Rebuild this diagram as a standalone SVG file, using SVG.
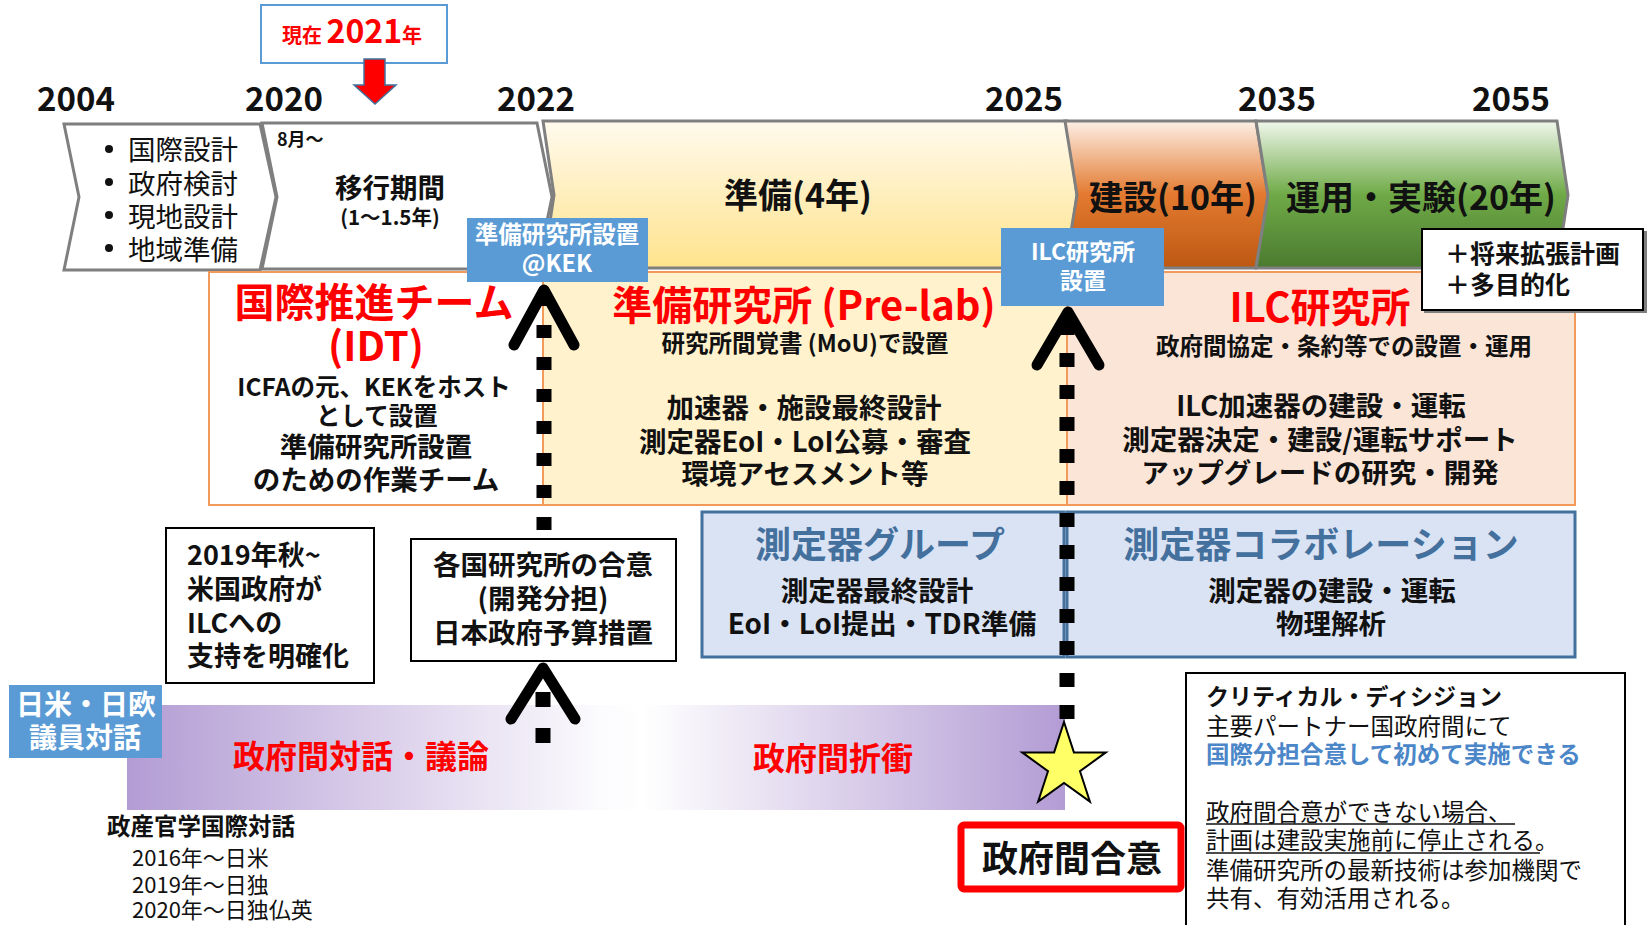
<svg xmlns="http://www.w3.org/2000/svg" width="1650" height="925" viewBox="0 0 1650 925">
<defs>
<style>
text{font-family:"Noto Sans CJK JP","Noto Sans",sans-serif;fill:#111;}
.b{font-weight:bold;}
.c{text-anchor:middle;dominant-baseline:central;}
.l{dominant-baseline:central;}
.yr{font-size:33px;font-weight:bold;}
.chev{stroke:#7F7F7F;stroke-width:3;stroke-linejoin:miter;}
.panel{stroke:#F29A5C;stroke-width:2;}
.det{fill:#DAE3F3;stroke:#41719C;stroke-width:3;}
.blue{fill:#5B9BD5;}
.wt{fill:#fff;font-weight:bold;}
.red{fill:#FF0000;font-weight:bold;}
.box{fill:#fff;stroke:#000;stroke-width:2;}
.dash{stroke:#000;stroke-width:15;fill:none;}
.vee{stroke:#000;stroke-width:11;fill:none;stroke-linecap:round;stroke-linejoin:round;}
</style>
<linearGradient id="gY" x1="0" y1="0" x2="0" y2="1"><stop offset="0" stop-color="#FFFAEE"/><stop offset="1" stop-color="#FFE38C"/></linearGradient>
<linearGradient id="gO" x1="0" y1="0" x2="0" y2="1"><stop offset="0" stop-color="#FDEFE6"/><stop offset="0.5" stop-color="#E37A30"/><stop offset="1" stop-color="#BD5812"/></linearGradient>
<linearGradient id="gG" x1="0" y1="0" x2="0" y2="1"><stop offset="0" stop-color="#F0F7EC"/><stop offset="0.5" stop-color="#6FAA47"/><stop offset="1" stop-color="#4B7A30"/></linearGradient>
<linearGradient id="gP" x1="0" y1="0" x2="1" y2="0"><stop offset="0" stop-color="#B39CD4"/><stop offset="0.5" stop-color="#FBFAFD"/><stop offset="0.55" stop-color="#FFFFFF"/><stop offset="1" stop-color="#B39CD4"/></linearGradient>
</defs>
<rect width="1650" height="925" fill="#fff"/>

<g id="years">
<text class="yr" x="37" y="111">2004</text>
<text class="yr" x="245" y="111">2020</text>
<text class="yr" x="497" y="111">2022</text>
<text class="yr" x="985" y="111">2025</text>
<text class="yr" x="1238" y="111">2035</text>
<text class="yr" x="1472" y="111">2055</text>
</g>

<g id="now">
<rect x="261" y="5" width="186" height="58" fill="#fff" stroke="#5B9BD5" stroke-width="2"/>
<text x="282" y="43" class="red" style="font-size:20px">現在 <tspan style="font-size:32px">2021</tspan>年</text>
<path d="M364,59 H385 V85 H396 L375,104 L354,85 H364 Z" fill="#FF0000" stroke="#41719C" stroke-width="1.5"/>
</g>

<g id="phase-design">
<polygon class="chev" fill="#fff" points="64,124 260,124 276,197 260,270 64,270 79,197"/>
<circle cx="109" cy="149" r="4" fill="#111"/>
<circle cx="109" cy="182" r="4" fill="#111"/>
<circle cx="109" cy="215" r="4" fill="#111"/>
<circle cx="109" cy="248" r="4" fill="#111"/>
<text class="l" x="128" y="148" style="font-size:27.5px">国際設計</text>
<text class="l" x="128" y="182" style="font-size:27.5px">政府検討</text>
<text class="l" x="128" y="215" style="font-size:27.5px">現地設計</text>
<text class="l" x="128" y="248" style="font-size:27.5px">地域準備</text>
</g>

<g id="phase-transition">
<polygon class="chev" fill="#fff" points="262,123 537,123 552,197 537,269 262,269 277,197"/>
<text class="l b" x="277" y="138" style="font-size:18px">8月～</text>
<text class="c b" x="390" y="186" style="font-size:27.5px">移行期間</text>
<text class="c b" x="390" y="216" style="font-size:20.5px">(1～1.5年)</text>
</g>

<g id="phase-prep">
<polygon class="chev" fill="url(#gY)" points="543,121 1067,121 1077,195 1067,268 543,268 554,195"/>
<text class="c b" x="798" y="193" style="font-size:34px">準備(4年)</text>
</g>

<g id="phase-build">
<polygon class="chev" fill="url(#gO)" points="1065,121 1256,121 1268,195 1256,268 1065,268 1077,195"/>
<text class="c b" x="1173" y="195" style="font-size:34px">建設(10年)</text>
</g>

<g id="phase-operate">
<polygon class="chev" fill="url(#gG)" points="1256,121 1557,121 1568,195 1557,268 1256,268 1268,195"/>
<text class="c b" x="1421" y="195" style="font-size:34px">運用・実験(20年)</text>
</g>

<g id="panel-idt">
<rect class="panel" x="209" y="272" width="334" height="233" fill="#fff"/>
<text class="c red" x="374" y="300" style="font-size:40px">国際推進チーム</text>
<text class="c red" x="376" y="344" style="font-size:40px">(IDT)</text>
<text class="c b" x="374" y="385" style="font-size:24.5px">ICFAの元、KEKをホスト</text>
<text class="c b" x="377" y="414" style="font-size:24.5px">として設置</text>
<text class="c b" x="376" y="445" style="font-size:27.5px">準備研究所設置</text>
<text class="c b" x="376" y="478" style="font-size:27.5px">のための作業チーム</text>
</g>

<g id="panel-prelab">
<rect class="panel" x="543" y="272" width="524" height="233" fill="#FFF2CC"/>
<text class="c red" x="804" y="303" style="font-size:40px">準備研究所 (Pre-lab)</text>
<text class="c b" x="805" y="342" style="font-size:23.5px">研究所間覚書 (MoU)で設置</text>
<text class="c b" x="804" y="406" style="font-size:27.5px">加速器・施設最終設計</text>
<text class="c b" x="805" y="440" style="font-size:27.5px">測定器EoI・LoI公募・審査</text>
<text class="c b" x="805" y="472" style="font-size:27.5px">環境アセスメント等</text>
</g>

<g id="panel-ilc">
<rect class="panel" x="1067" y="272" width="508" height="233" fill="#FBE5D6"/>
<text class="c red" x="1320" y="305" style="font-size:40px">ILC研究所</text>
<text class="c b" x="1344" y="345" style="font-size:23.5px">政府間協定・条約等での設置・運用</text>
<text class="c b" x="1321" y="404" style="font-size:27.5px">ILC加速器の建設・運転</text>
<text class="c b" x="1320" y="438" style="font-size:27.5px">測定器決定・建設/運転サポート</text>
<text class="c b" x="1320" y="471" style="font-size:27.5px">アップグレードの研究・開発</text>
</g>

<g id="future">
<rect x="1424" y="231" width="223" height="82" fill="#7F7F7F"/>
<rect x="1422" y="229" width="221" height="81" class="box"/>
<text class="l b" x="1445" y="252" style="font-size:25px">＋将来拡張計画</text>
<text class="l b" x="1445" y="283" style="font-size:25px">＋多目的化</text>
</g>

<g id="detector-group">
<rect class="det" x="702" y="512" width="362" height="145"/>
<text class="c b" x="880" y="542" style="font-size:36px;fill:#44709E">測定器グループ</text>
<text class="c b" x="877" y="589" style="font-size:27.5px">測定器最終設計</text>
<text class="c b" x="882" y="622" style="font-size:27.8px">EoI・LoI提出・TDR準備</text>
</g>

<g id="detector-collab">
<rect class="det" x="1067" y="512" width="508" height="145"/>
<text class="c b" x="1321" y="542" style="font-size:36px;fill:#44709E">測定器コラボレーション</text>
<text class="c b" x="1332" y="589" style="font-size:27.5px">測定器の建設・運転</text>
<text class="c b" x="1331" y="622" style="font-size:27.5px">物理解析</text>
</g>

<g id="us-support">
<rect class="box" x="166" y="528" width="208" height="155"/>
<text class="l b" x="187" y="553" style="font-size:27px">2019年秋~</text>
<text class="l b" x="187" y="587" style="font-size:27px">米国政府が</text>
<text class="l b" x="187" y="621" style="font-size:27px">ILCへの</text>
<text class="l b" x="187" y="654" style="font-size:27px">支持を明確化</text>
</g>

<g id="gov-dialogue">
<rect x="127" y="705" width="938" height="105" fill="url(#gP)"/>
<text class="c red" x="361" y="754" style="font-size:32px">政府間対話・議論</text>
<text class="c red" x="833" y="756" style="font-size:32px">政府間折衝</text>
</g>

<g id="connectors">
<line class="dash" x1="544" y1="293" x2="544" y2="531" stroke-dasharray="13 19"/>
<line class="dash" x1="543" y1="692" x2="543" y2="744" stroke-dasharray="15 21"/>
<line class="dash" x1="1067" y1="321" x2="1067" y2="720" stroke-dasharray="14 18"/>
<polyline class="vee" points="514,345 544,290 574,345"/>
<polyline class="vee" points="511,719 543,668 575,719"/>
<polyline class="vee" points="1037,365 1068,312 1099,365"/>
</g>

<g id="kek-prelab">
<rect class="blue" x="467" y="218" width="181" height="64"/>
<text class="c wt" x="557" y="233" style="font-size:23.5px">準備研究所設置</text>
<text class="c wt" x="557" y="262" style="font-size:23.5px">@KEK</text>
</g>

<g id="ilc-lab-setup">
<rect class="blue" x="1001" y="228" width="163" height="78"/>
<text class="c wt" x="1083" y="250" style="font-size:23px">ILC研究所</text>
<text class="c wt" x="1083" y="279" style="font-size:23px">設置</text>
</g>

<g id="lab-agreement">
<rect class="box" x="411" y="539" width="265" height="122"/>
<text class="c b" x="543" y="563" style="font-size:27.5px">各国研究所の合意</text>
<text class="c b" x="543" y="597" style="font-size:27.5px">(開発分担)</text>
<text class="c b" x="543" y="631" style="font-size:27.5px">日本政府予算措置</text>
</g>

<g id="parliament">
<rect class="blue" x="9" y="685" width="153" height="73"/>
<text class="c wt" x="86" y="703" style="font-size:28px">日米・日欧</text>
<text class="c wt" x="85" y="736" style="font-size:28px">議員対話</text>
</g>

<g id="intl-dialogue">
<text class="l b" x="107" y="825" style="font-size:23.5px">政産官学国際対話</text>
<text class="l" x="132" y="856" style="font-size:22px">2016年～日米</text>
<text class="l" x="132" y="883" style="font-size:22px">2019年～日独</text>
<text class="l" x="132" y="908" style="font-size:22px">2020年～日独仏英</text>
</g>

<g id="star">
<polygon points="1064,722 1073.9,752.4 1105.8,752.4 1080,771.2 1089.9,801.6 1064,783 1038.1,801.6 1048,771.2 1022.2,752.4 1054.1,752.4" fill="#FFFF66" stroke="#000" stroke-width="2" stroke-linejoin="miter"/>
</g>

<g id="gov-agreement">
<rect x="961" y="825" width="220" height="64" rx="3" fill="#fff" stroke="#FF0000" stroke-width="7"/>
<text class="c b" x="1072" y="856" style="font-size:36px">政府間合意</text>
</g>

<g id="critical-decision">
<rect class="box" x="1186" y="673" width="439" height="270"/>
<text class="l b" x="1206" y="695" style="font-size:23px">クリティカル・ディシジョン</text>
<text class="l" x="1206" y="725" style="font-size:23.5px">主要パートナー国政府間にて</text>
<text class="l b" x="1206" y="753" style="font-size:23.5px;fill:#4A86C8">国際分担合意して初めて実施できる</text>
<text class="l" x="1206" y="811" style="font-size:23.5px">政府間合意ができない場合、</text>
<line x1="1206" y1="824" x2="1515" y2="824" stroke="#111" stroke-width="1.5"/>
<text class="l" x="1206" y="839" style="font-size:23.5px">計画は建設実施前に停止される。</text>
<line x1="1206" y1="853" x2="1540" y2="853" stroke="#111" stroke-width="1.5"/>
<text class="l" x="1206" y="869" style="font-size:23.5px">準備研究所の最新技術は参加機関で</text>
<text class="l" x="1206" y="897" style="font-size:23.5px">共有、有効活用される。</text>
</g>
</svg>
